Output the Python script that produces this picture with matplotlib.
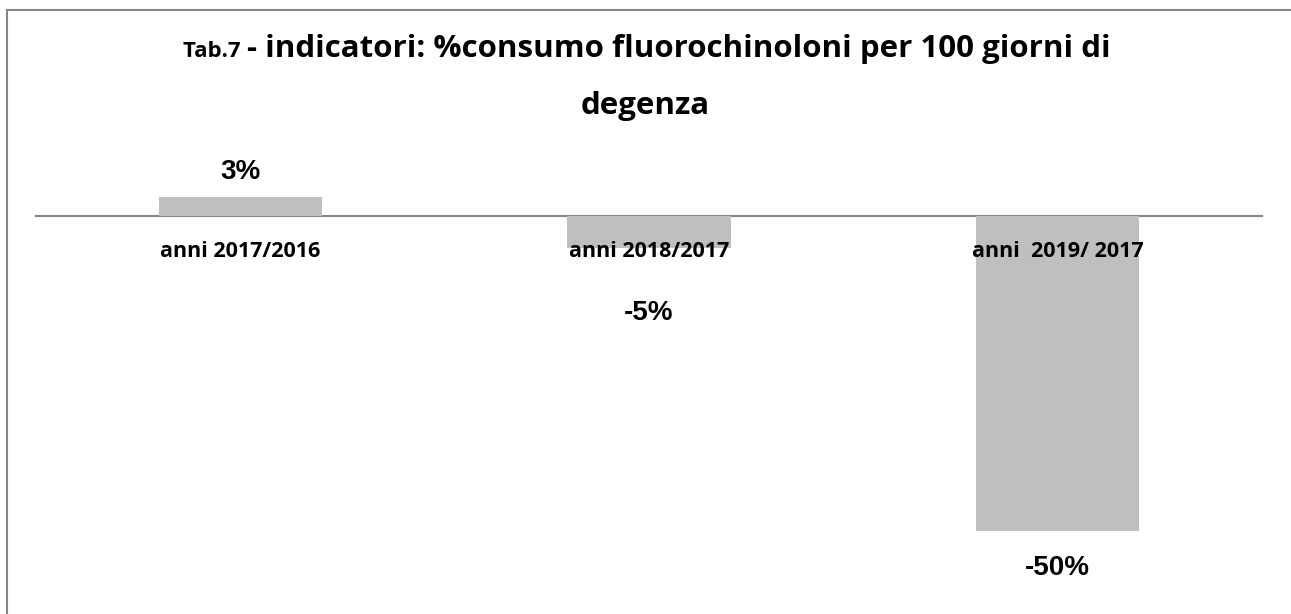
import matplotlib.pyplot as plt
from matplotlib.lines import Line2D

# Dati
categorie = ["anni 2017/2016", "anni 2018/2017", "anni  2019/ 2017"]
valori = [3, -5, -50]
etichette = ["3%", "-5%", "-50%"]
# spostamento etichette (pixel, negativo = sotto)
offset_px = [25, -65, -37]

titolo_font = "Open Sans"

fig = plt.figure(figsize=(12.91, 6.14), dpi=100)
ax = fig.add_axes([36 / 1291, 1 - 600 / 614, 1226 / 1291, 450 / 614])

x = range(len(valori))
ax.bar(x, valori, width=0.4, color="#bfbfbf", zorder=2)
ax.set_xlim(-0.5, 2.5)
ax.set_ylim(-61, 10.5)
ax.set_axisbelow(False)

for spine in ["top", "right", "left"]:
    ax.spines[spine].set_visible(False)
ax.spines["bottom"].set_position(("data", 0))
ax.spines["bottom"].set_color("#868686")
ax.spines["bottom"].set_linewidth(1.5)
ax.spines["bottom"].set_zorder(1)
ax.set_yticks([])
ax.set_xticks(list(x))
ax.set_xticklabels(categorie, fontsize=15.5, fontweight="bold", family=titolo_font)
ax.tick_params(axis="x", length=0, pad=18)

for i, v in enumerate(valori):
    ax.annotate(etichette[i], xy=(i, v), xytext=(0, offset_px[i] * 0.72),
                textcoords="offset points", ha="center", va="center",
                fontsize=20, fontweight="bold", family="Liberation Sans")

# Titolo (due dimensioni sulla prima riga)
fig.canvas.draw()
r = fig.canvas.get_renderer()
t1 = fig.text(0, 0, "Tab.7 ", fontsize=16, fontweight="bold", family=titolo_font, va="baseline")
t2 = fig.text(0, 0, "- indicatori: %consumo fluorochinoloni per 100 giorni di",
              fontsize=22.5, fontweight="bold", family=titolo_font, va="baseline")
w1 = t1.get_window_extent(r).width
w2 = t2.get_window_extent(r).width
start = (647 - (w1 + w2) / 2) / 1291
t1.set_position((start, 1 - 57 / 614))
t2.set_position((start + w1 / 1291, 1 - 57 / 614))
fig.text(645 / 1291, 1 - 114 / 614, "degenza", fontsize=22.5, fontweight="bold",
         family=titolo_font, ha="center", va="baseline")

# Bordo del grafico
fig.add_artist(Line2D([7 / 1291, 1], [1 - 10 / 614, 1 - 10 / 614], color="#868686", lw=1.5,
                      transform=fig.transFigure))
fig.add_artist(Line2D([7 / 1291, 7 / 1291], [0, 1 - 10 / 614], color="#868686", lw=1.5,
                      transform=fig.transFigure))

fig.savefig("out.png", dpi=100)
